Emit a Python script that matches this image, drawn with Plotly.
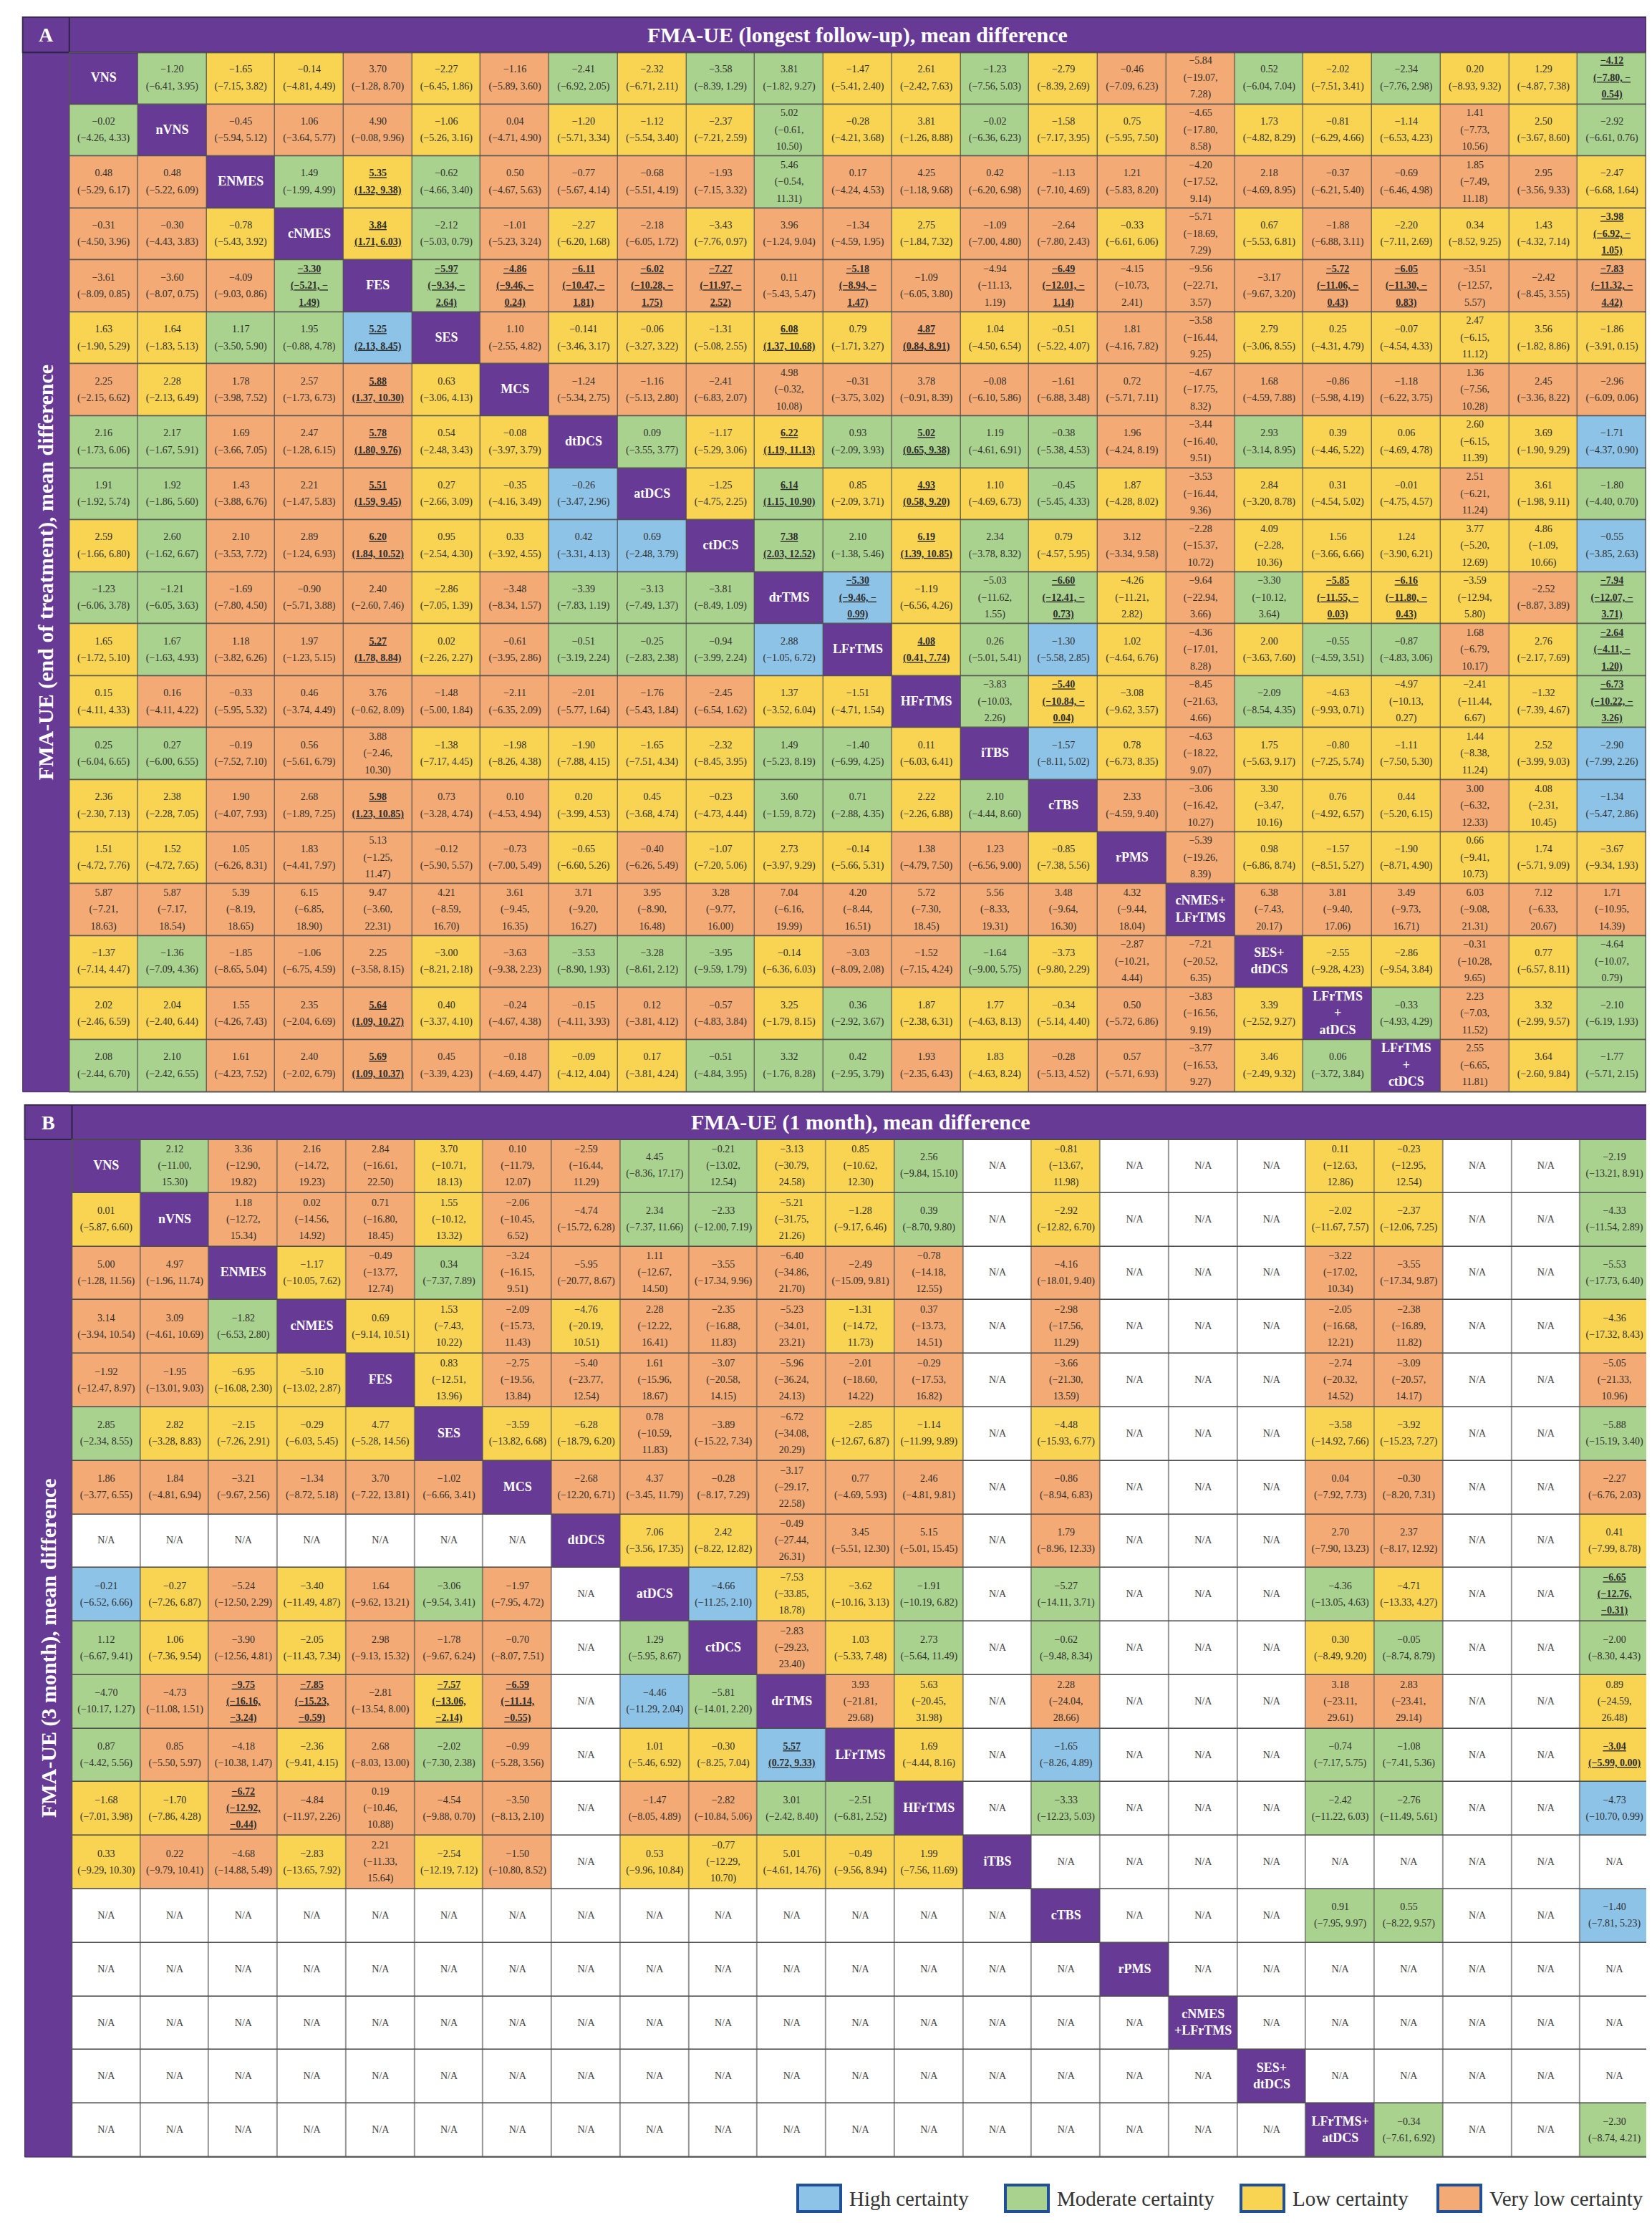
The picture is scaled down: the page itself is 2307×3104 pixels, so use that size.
import plotly.graph_objects as go

W, H = 2307, 3104
N = None

# ---------------- treatments ----------------
TREAT_A = ["VNS", "nVNS", "ENMES", "cNMES", "FES", "SES", "MCS", "dtDCS", "atDCS", "ctDCS",
           "drTMS", "LFrTMS", "HFrTMS", "iTBS", "cTBS", "rPMS", "cNMES+\nLFrTMS", "SES+\ndtDCS",
           "LFrTMS\n+\natDCS", "LFrTMS\n+\nctDCS"]
TREAT_B = ["VNS", "nVNS", "ENMES", "cNMES", "FES", "SES", "MCS", "dtDCS", "atDCS", "ctDCS",
           "drTMS", "LFrTMS", "HFrTMS", "iTBS", "cTBS", "rPMS", "cNMES\n+LFrTMS", "SES+\ndtDCS",
           "LFrTMS+\natDCS"]
NCOL = 23

TITLE_A = "FMA-UE (longest follow-up), mean difference"
TITLE_B = "FMA-UE (1 month), mean difference"
YLAB_A = "FMA-UE (end of treatment), mean difference"
YLAB_B = "FMA-UE (3 month), mean difference"
LEGEND_LABELS = ["High certainty", "Moderate certainty", "Low certainty", "Very low certainty"]
LEGEND_CODES = ["H", "M", "L", "V"]

# certainty: H high, M moderate, L low, V very low, D diagonal, N not available
CERT_A = [
    "DMLLVLVMLMMLLMLVVMLMLLM",
    "MDVVVLVLLLMLLMLLVLLLVLM",
    "VVDMLMVVVVMVVVVVVVVVVVL",
    "VVLDLMVLVLVVLVVLVLVLLLL",
    "VVVMDMVVVVVVVVVVVVVVVVV",
    "LLMMHDVLLLLLVLLVVLLLLLL",
    "VLVVVLDVVVVVVVVVVVVVVVV",
    "MMVVVLLDMLLMMMMVVMLLLLH",
    "MMVVVLLHDLMLLLMLVLLLVLM",
    "LMVVVLLHHDMMLMLVVLLLLLH",
    "MMVVVLVMMMDHLMMLVMLLLVM",
    "LMVVVLVMMMHDLMHLVLMMVLM",
    "LVVVVVVVVVLLDMLLVMLLLLM",
    "MMVVVLLLLLMMLDHLVLLLLLH",
    "LLVVVVVLLLMMLMDVVLLLVLH",
    "LLVVVVVLVLLLVVLDVLLLLLL",
    "VVVVVVVVVVVVVVVVDVVVVVV",
    "LMVVVLVMMMLVVMLVVDLLVLM",
    "LLVVVLVVVVLMLLLVVLDMVLM",
    "MMVVVVVLLMMMVLVVVLMDVLM",
]

MEAN_A = [
    [N, -1.20, -1.65, -0.14, 3.70, -2.27, -1.16, -2.41, -2.32, -3.58, 3.81, -1.47, 2.61, -1.23, -2.79, -0.46, -5.84, 0.52, -2.02, -2.34, 0.20, 1.29, -4.12],
    [-0.02, N, -0.45, 1.06, 4.90, -1.06, 0.04, -1.20, -1.12, -2.37, 5.02, -0.28, 3.81, -0.02, -1.58, 0.75, -4.65, 1.73, -0.81, -1.14, 1.41, 2.50, -2.92],
    [0.48, 0.48, N, 1.49, 5.35, -0.62, 0.50, -0.77, -0.68, -1.93, 5.46, 0.17, 4.25, 0.42, -1.13, 1.21, -4.20, 2.18, -0.37, -0.69, 1.85, 2.95, -2.47],
    [-0.31, -0.30, -0.78, N, 3.84, -2.12, -1.01, -2.27, -2.18, -3.43, 3.96, -1.34, 2.75, -1.09, -2.64, -0.33, -5.71, 0.67, -1.88, -2.20, 0.34, 1.43, -3.98],
    [-3.61, -3.60, -4.09, -3.30, N, -5.97, -4.86, -6.11, -6.02, -7.27, 0.11, -5.18, -1.09, -4.94, -6.49, -4.15, -9.56, -3.17, -5.72, -6.05, -3.51, -2.42, -7.83],
    [1.63, 1.64, 1.17, 1.95, 5.25, N, 1.10, -0.141, -0.06, -1.31, 6.08, 0.79, 4.87, 1.04, -0.51, 1.81, -3.58, 2.79, 0.25, -0.07, 2.47, 3.56, -1.86],
    [2.25, 2.28, 1.78, 2.57, 5.88, 0.63, N, -1.24, -1.16, -2.41, 4.98, -0.31, 3.78, -0.08, -1.61, 0.72, -4.67, 1.68, -0.86, -1.18, 1.36, 2.45, -2.96],
    [2.16, 2.17, 1.69, 2.47, 5.78, 0.54, -0.08, N, 0.09, -1.17, 6.22, 0.93, 5.02, 1.19, -0.38, 1.96, -3.44, 2.93, 0.39, 0.06, 2.60, 3.69, -1.71],
    [1.91, 1.92, 1.43, 2.21, 5.51, 0.27, -0.35, -0.26, N, -1.25, 6.14, 0.85, 4.93, 1.10, -0.45, 1.87, -3.53, 2.84, 0.31, -0.01, 2.51, 3.61, -1.80],
    [2.59, 2.60, 2.10, 2.89, 6.20, 0.95, 0.33, 0.42, 0.69, N, 7.38, 2.10, 6.19, 2.34, 0.79, 3.12, -2.28, 4.09, 1.56, 1.24, 3.77, 4.86, -0.55],
    [-1.23, -1.21, -1.69, -0.90, 2.40, -2.86, -3.48, -3.39, -3.13, -3.81, N, -5.30, -1.19, -5.03, -6.60, -4.26, -9.64, -3.30, -5.85, -6.16, -3.59, -2.52, -7.94],
    [1.65, 1.67, 1.18, 1.97, 5.27, 0.02, -0.61, -0.51, -0.25, -0.94, 2.88, N, 4.08, 0.26, -1.30, 1.02, -4.36, 2.00, -0.55, -0.87, 1.68, 2.76, -2.64],
    [0.15, 0.16, -0.33, 0.46, 3.76, -1.48, -2.11, -2.01, -1.76, -2.45, 1.37, -1.51, N, -3.83, -5.40, -3.08, -8.45, -2.09, -4.63, -4.97, -2.41, -1.32, -6.73],
    [0.25, 0.27, -0.19, 0.56, 3.88, -1.38, -1.98, -1.90, -1.65, -2.32, 1.49, -1.40, 0.11, N, -1.57, 0.78, -4.63, 1.75, -0.80, -1.11, 1.44, 2.52, -2.90],
    [2.36, 2.38, 1.90, 2.68, 5.98, 0.73, 0.10, 0.20, 0.45, -0.23, 3.60, 0.71, 2.22, 2.10, N, 2.33, -3.06, 3.30, 0.76, 0.44, 3.00, 4.08, -1.34],
    [1.51, 1.52, 1.05, 1.83, 5.13, -0.12, -0.73, -0.65, -0.40, -1.07, 2.73, -0.14, 1.38, 1.23, -0.85, N, -5.39, 0.98, -1.57, -1.90, 0.66, 1.74, -3.67],
    [5.87, 5.87, 5.39, 6.15, 9.47, 4.21, 3.61, 3.71, 3.95, 3.28, 7.04, 4.20, 5.72, 5.56, 3.48, 4.32, N, 6.38, 3.81, 3.49, 6.03, 7.12, 1.71],
    [-1.37, -1.36, -1.85, -1.06, 2.25, -3.00, -3.63, -3.53, -3.28, -3.95, -0.14, -3.03, -1.52, -1.64, -3.73, -2.87, -7.21, N, -2.55, -2.86, -0.31, 0.77, -4.64],
    [2.02, 2.04, 1.55, 2.35, 5.64, 0.40, -0.24, -0.15, 0.12, -0.57, 3.25, 0.36, 1.87, 1.77, -0.34, 0.50, -3.83, 3.39, N, -0.33, 2.23, 3.32, -2.10],
    [2.08, 2.10, 1.61, 2.40, 5.69, 0.45, -0.18, -0.09, 0.17, -0.51, 3.32, 0.42, 1.93, 1.83, -0.28, 0.57, -3.77, 3.46, 0.06, N, 2.55, 3.64, -1.77],
]
LO_A = [
    [N, -6.41, -7.15, -4.81, -1.28, -6.45, -5.89, -6.92, -6.71, -8.39, -1.82, -5.41, -2.42, -7.56, -8.39, -7.09, -19.07, -6.04, -7.51, -7.76, -8.93, -4.87, -7.80],
    [-4.26, N, -5.94, -3.64, -0.08, -5.26, -4.71, -5.71, -5.54, -7.21, -0.61, -4.21, -1.26, -6.36, -7.17, -5.95, -17.80, -4.82, -6.29, -6.53, -7.73, -3.67, -6.61],
    [-5.29, -5.22, N, -1.99, 1.32, -4.66, -4.67, -5.67, -5.51, -7.15, -0.54, -4.24, -1.18, -6.20, -7.10, -5.83, -17.52, -4.69, -6.21, -6.46, -7.49, -3.56, -6.68],
    [-4.50, -4.43, -5.43, N, 1.71, -5.03, -5.23, -6.20, -6.05, -7.76, -1.24, -4.59, -1.84, -7.00, -7.80, -6.61, -18.69, -5.53, -6.88, -7.11, -8.52, -4.32, -6.92],
    [-8.09, -8.07, -9.03, -5.21, N, -9.34, -9.46, -10.47, -10.28, -11.97, -5.43, -8.94, -6.05, -11.13, -12.01, -10.73, -22.71, -9.67, -11.06, -11.30, -12.57, -8.45, -11.32],
    [-1.90, -1.83, -3.50, -0.88, 2.13, N, -2.55, -3.46, -3.27, -5.08, 1.37, -1.71, 0.84, -4.50, -5.22, -4.16, -16.44, -3.06, -4.31, -4.54, -6.15, -1.82, -3.91],
    [-2.15, -2.13, -3.98, -1.73, 1.37, -3.06, N, -5.34, -5.13, -6.83, -0.32, -3.75, -0.91, -6.10, -6.88, -5.71, -17.75, -4.59, -5.98, -6.22, -7.56, -3.36, -6.09],
    [-1.73, -1.67, -3.66, -1.28, 1.80, -2.48, -3.97, N, -3.55, -5.29, 1.19, -2.09, 0.65, -4.61, -5.38, -4.24, -16.40, -3.14, -4.46, -4.69, -6.15, -1.90, -4.37],
    [-1.92, -1.86, -3.88, -1.47, 1.59, -2.66, -4.16, -3.47, N, -4.75, 1.15, -2.09, 0.58, -4.69, -5.45, -4.28, -16.44, -3.20, -4.54, -4.75, -6.21, -1.98, -4.40],
    [-1.66, -1.62, -3.53, -1.24, 1.84, -2.54, -3.92, -3.31, -2.48, N, 2.03, -1.38, 1.39, -3.78, -4.57, -3.34, -15.37, -2.28, -3.66, -3.90, -5.20, -1.09, -3.85],
    [-6.06, -6.05, -7.80, -5.71, -2.60, -7.05, -8.34, -7.83, -7.49, -8.49, N, -9.46, -6.56, -11.62, -12.41, -11.21, -22.94, -10.12, -11.55, -11.80, -12.94, -8.87, -12.07],
    [-1.72, -1.63, -3.82, -1.23, 1.78, -2.26, -3.95, -3.19, -2.83, -3.99, -1.05, N, 0.41, -5.01, -5.58, -4.64, -17.01, -3.63, -4.59, -4.83, -6.79, -2.17, -4.11],
    [-4.11, -4.11, -5.95, -3.74, -0.62, -5.00, -6.35, -5.77, -5.43, -6.54, -3.52, -4.71, N, -10.03, -10.84, -9.62, -21.63, -8.54, -9.93, -10.13, -11.44, -7.39, -10.22],
    [-6.04, -6.00, -7.52, -5.61, -2.46, -7.17, -8.26, -7.88, -7.51, -8.45, -5.23, -6.99, -6.03, N, -8.11, -6.73, -18.22, -5.63, -7.25, -7.50, -8.38, -3.99, -7.99],
    [-2.30, -2.28, -4.07, -1.89, 1.23, -3.28, -4.53, -3.99, -3.68, -4.73, -1.59, -2.88, -2.26, -4.44, N, -4.59, -16.42, -3.47, -4.92, -5.20, -6.32, -2.31, -5.47],
    [-4.72, -4.72, -6.26, -4.41, -1.25, -5.90, -7.00, -6.60, -6.26, -7.20, -3.97, -5.66, -4.79, -6.56, -7.38, N, -19.26, -6.86, -8.51, -8.71, -9.41, -5.71, -9.34],
    [-7.21, -7.17, -8.19, -6.85, -3.60, -8.59, -9.45, -9.20, -8.90, -9.77, -6.16, -8.44, -7.30, -8.33, -9.64, -9.44, N, -7.43, -9.40, -9.73, -9.08, -6.33, -10.95],
    [-7.14, -7.09, -8.65, -6.75, -3.58, -8.21, -9.38, -8.90, -8.61, -9.59, -6.36, -8.09, -7.15, -9.00, -9.80, -10.21, -20.52, N, -9.28, -9.54, -10.28, -6.57, -10.07],
    [-2.46, -2.40, -4.26, -2.04, 1.09, -3.37, -4.67, -4.11, -3.81, -4.83, -1.79, -2.92, -2.38, -4.63, -5.14, -5.72, -16.56, -2.52, N, -4.93, -7.03, -2.99, -6.19],
    [-2.44, -2.42, -4.23, -2.02, 1.09, -3.39, -4.69, -4.12, -3.81, -4.84, -1.76, -2.95, -2.35, -4.63, -5.13, -5.71, -16.53, -2.49, -3.72, N, -6.65, -2.60, -5.71],
]
HI_A = [
    [N, 3.95, 3.82, 4.49, 8.70, 1.86, 3.60, 2.05, 2.11, 1.29, 9.27, 2.40, 7.63, 5.03, 2.69, 6.23, 7.28, 7.04, 3.41, 2.98, 9.32, 7.38, -0.54],
    [4.33, N, 5.12, 5.77, 9.96, 3.16, 4.90, 3.34, 3.40, 2.59, 10.50, 3.68, 8.88, 6.23, 3.95, 7.50, 8.58, 8.29, 4.66, 4.23, 10.56, 8.60, 0.76],
    [6.17, 6.09, N, 4.99, 9.38, 3.40, 5.63, 4.14, 4.19, 3.32, 11.31, 4.53, 9.68, 6.98, 4.69, 8.20, 9.14, 8.95, 5.40, 4.98, 11.18, 9.33, 1.64],
    [3.96, 3.83, 3.92, N, 6.03, 0.79, 3.24, 1.68, 1.72, 0.97, 9.04, 1.95, 7.32, 4.80, 2.43, 6.06, 7.29, 6.81, 3.11, 2.69, 9.25, 7.14, -1.05],
    [0.85, 0.75, 0.86, -1.49, N, -2.64, -0.24, -1.81, -1.75, -2.52, 5.47, -1.47, 3.80, 1.19, -1.14, 2.41, 3.57, 3.20, -0.43, -0.83, 5.57, 3.55, -4.42],
    [5.29, 5.13, 5.90, 4.78, 8.45, N, 4.82, 3.17, 3.22, 2.55, 10.68, 3.27, 8.91, 6.54, 4.07, 7.82, 9.25, 8.55, 4.79, 4.33, 11.12, 8.86, 0.15],
    [6.62, 6.49, 7.52, 6.73, 10.30, 4.13, N, 2.75, 2.80, 2.07, 10.08, 3.02, 8.39, 5.86, 3.48, 7.11, 8.32, 7.88, 4.19, 3.75, 10.28, 8.22, 0.06],
    [6.06, 5.91, 7.05, 6.15, 9.76, 3.43, 3.79, N, 3.77, 3.06, 11.13, 3.93, 9.38, 6.91, 4.53, 8.19, 9.51, 8.95, 5.22, 4.78, 11.39, 9.29, 0.90],
    [5.74, 5.60, 6.76, 5.83, 9.45, 3.09, 3.49, 2.96, N, 2.25, 10.90, 3.71, 9.20, 6.73, 4.33, 8.02, 9.36, 8.78, 5.02, 4.57, 11.24, 9.11, 0.70],
    [6.80, 6.67, 7.72, 6.93, 10.52, 4.30, 4.55, 4.13, 3.79, N, 12.52, 5.46, 10.85, 8.32, 5.95, 9.58, 10.72, 10.36, 6.66, 6.21, 12.69, 10.66, 2.63],
    [3.78, 3.63, 4.50, 3.88, 7.46, 1.39, 1.57, 1.19, 1.37, 1.09, N, -0.99, 4.26, 1.55, -0.73, 2.82, 3.66, 3.64, -0.03, -0.43, 5.80, 3.89, -3.71],
    [5.10, 4.93, 6.26, 5.15, 8.84, 2.27, 2.86, 2.24, 2.38, 2.24, 6.72, N, 7.74, 5.41, 2.85, 6.76, 8.28, 7.60, 3.51, 3.06, 10.17, 7.69, -1.20],
    [4.33, 4.22, 5.32, 4.49, 8.09, 1.84, 2.09, 1.64, 1.84, 1.62, 6.04, 1.54, N, 2.26, -0.04, 3.57, 4.66, 4.35, 0.71, 0.27, 6.67, 4.67, -3.26],
    [6.65, 6.55, 7.10, 6.79, 10.30, 4.45, 4.38, 4.15, 4.34, 3.95, 8.19, 4.25, 6.41, N, 5.02, 8.35, 9.07, 9.17, 5.74, 5.30, 11.24, 9.03, 2.26],
    [7.13, 7.05, 7.93, 7.25, 10.85, 4.74, 4.94, 4.53, 4.74, 4.44, 8.72, 4.35, 6.88, 8.60, N, 9.40, 10.27, 10.16, 6.57, 6.15, 12.33, 10.45, 2.86],
    [7.76, 7.65, 8.31, 7.97, 11.47, 5.57, 5.49, 5.26, 5.49, 5.06, 9.29, 5.31, 7.50, 9.00, 5.56, N, 8.39, 8.74, 5.27, 4.90, 10.73, 9.09, 1.93],
    [18.63, 18.54, 18.65, 18.90, 22.31, 16.70, 16.35, 16.27, 16.48, 16.00, 19.99, 16.51, 18.45, 19.31, 16.30, 18.04, N, 20.17, 17.06, 16.71, 21.31, 20.67, 14.39],
    [4.47, 4.36, 5.04, 4.59, 8.15, 2.18, 2.23, 1.93, 2.12, 1.79, 6.03, 2.08, 4.24, 5.75, 2.29, 4.44, 6.35, N, 4.23, 3.84, 9.65, 8.11, 0.79],
    [6.59, 6.44, 7.43, 6.69, 10.27, 4.10, 4.38, 3.93, 4.12, 3.84, 8.15, 3.67, 6.31, 8.13, 4.40, 6.86, 9.19, 9.27, N, 4.29, 11.52, 9.57, 1.93],
    [6.70, 6.55, 7.52, 6.79, 10.37, 4.23, 4.47, 4.04, 4.24, 3.95, 8.28, 3.79, 6.43, 8.24, 4.52, 6.93, 9.27, 9.32, 3.84, N, 11.81, 9.84, 2.15],
]

CERT_B = [
    "DMVVVLVVMMLLMNLNNNLLNNM",
    "LDVVVLVVMMLLMNLNNNLLNNM",
    "VVDLVMVVVVVVVNVNNNVVNNM",
    "VVMDLLVLVVVLVNVNNNVVNNL",
    "VVLLDLVVVVVVVNVNNNVVNNV",
    "MLLLLDLLVVVLLNLNNNLLNNM",
    "VVVVVVDVVVVVVNVNNNVVNNV",
    "NNNNNNNDLLVVVNVNNNVVNNL",
    "HLVLVMVNDHLLMNMNNNMLNNM",
    "MLVLVVVNMDVLMNMNNNLMNNM",
    "MVVVVLVNHMDVLNVNNNVVNNL",
    "MVVLVMVNLLHDLNHNNNMMNNL",
    "LLVVVVVNVVMMDNMNNNMMNNH",
    "LVVLVLVNLLLLLDNNNNNNNNN",
    "NNNNNNNNNNNNNNDNNNMMNNH",
    "NNNNNNNNNNNNNNNDNNNNNNN",
    "NNNNNNNNNNNNNNNNDNNNNNN",
    "NNNNNNNNNNNNNNNNNDNNNNN",
    "NNNNNNNNNNNNNNNNNNDMNNM",
]
MEAN_B = [
    [N, 2.12, 3.36, 2.16, 2.84, 3.70, 0.10, -2.59, 4.45, -0.21, -3.13, 0.85, 2.56, N, -0.81, N, N, N, 0.11, -0.23, N, N, -2.19],
    [0.01, N, 1.18, 0.02, 0.71, 1.55, -2.06, -4.74, 2.34, -2.33, -5.21, -1.28, 0.39, N, -2.92, N, N, N, -2.02, -2.37, N, N, -4.33],
    [5.00, 4.97, N, -1.17, -0.49, 0.34, -3.24, -5.95, 1.11, -3.55, -6.40, -2.49, -0.78, N, -4.16, N, N, N, -3.22, -3.55, N, N, -5.53],
    [3.14, 3.09, -1.82, N, 0.69, 1.53, -2.09, -4.76, 2.28, -2.35, -5.23, -1.31, 0.37, N, -2.98, N, N, N, -2.05, -2.38, N, N, -4.36],
    [-1.92, -1.95, -6.95, -5.10, N, 0.83, -2.75, -5.40, 1.61, -3.07, -5.96, -2.01, -0.29, N, -3.66, N, N, N, -2.74, -3.09, N, N, -5.05],
    [2.85, 2.82, -2.15, -0.29, 4.77, N, -3.59, -6.28, 0.78, -3.89, -6.72, -2.85, -1.14, N, -4.48, N, N, N, -3.58, -3.92, N, N, -5.88],
    [1.86, 1.84, -3.21, -1.34, 3.70, -1.02, N, -2.68, 4.37, -0.28, -3.17, 0.77, 2.46, N, -0.86, N, N, N, 0.04, -0.30, N, N, -2.27],
    [N, N, N, N, N, N, N, N, 7.06, 2.42, -0.49, 3.45, 5.15, N, 1.79, N, N, N, 2.70, 2.37, N, N, 0.41],
    [-0.21, -0.27, -5.24, -3.40, 1.64, -3.06, -1.97, N, N, -4.66, -7.53, -3.62, -1.91, N, -5.27, N, N, N, -4.36, -4.71, N, N, -6.65],
    [1.12, 1.06, -3.90, -2.05, 2.98, -1.78, -0.70, N, 1.29, N, -2.83, 1.03, 2.73, N, -0.62, N, N, N, 0.30, -0.05, N, N, -2.00],
    [-4.70, -4.73, -9.75, -7.85, -2.81, -7.57, -6.59, N, -4.46, -5.81, N, 3.93, 5.63, N, 2.28, N, N, N, 3.18, 2.83, N, N, 0.89],
    [0.87, 0.85, -4.18, -2.36, 2.68, -2.02, -0.99, N, 1.01, -0.30, 5.57, N, 1.69, N, -1.65, N, N, N, -0.74, -1.08, N, N, -3.04],
    [-1.68, -1.70, -6.72, -4.84, 0.19, -4.54, -3.50, N, -1.47, -2.82, 3.01, -2.51, N, N, -3.33, N, N, N, -2.42, -2.76, N, N, -4.73],
    [0.33, 0.22, -4.68, -2.83, 2.21, -2.54, -1.50, N, 0.53, -0.77, 5.01, -0.49, 1.99, N, N, N, N, N, N, N, N, N, N],
    [N, N, N, N, N, N, N, N, N, N, N, N, N, N, N, N, N, N, 0.91, 0.55, N, N, -1.40],
    [N] * 23,
    [N] * 23,
    [N] * 23,
    [N, N, N, N, N, N, N, N, N, N, N, N, N, N, N, N, N, N, N, -0.34, N, N, -2.30],
]
LO_B = [
    [N, -11.00, -12.90, -14.72, -16.61, -10.71, -11.79, -16.44, -8.36, -13.02, -30.79, -10.62, -9.84, N, -13.67, N, N, N, -12.63, -12.95, N, N, -13.21],
    [-5.87, N, -12.72, -14.56, -16.80, -10.12, -10.45, -15.72, -7.37, -12.00, -31.75, -9.17, -8.70, N, -12.82, N, N, N, -11.67, -12.06, N, N, -11.54],
    [-1.28, -1.96, N, -10.05, -13.77, -7.37, -16.15, -20.77, -12.67, -17.34, -34.86, -15.09, -14.18, N, -18.01, N, N, N, -17.02, -17.34, N, N, -17.73],
    [-3.94, -4.61, -6.53, N, -9.14, -7.43, -15.73, -20.19, -12.22, -16.88, -34.01, -14.72, -13.73, N, -17.56, N, N, N, -16.68, -16.89, N, N, -17.32],
    [-12.47, -13.01, -16.08, -13.02, N, -12.51, -19.56, -23.77, -15.96, -20.58, -36.24, -18.60, -17.53, N, -21.30, N, N, N, -20.32, -20.57, N, N, -21.33],
    [-2.34, -3.28, -7.26, -6.03, -5.28, N, -13.82, -18.79, -10.59, -15.22, -34.08, -12.67, -11.99, N, -15.93, N, N, N, -14.92, -15.23, N, N, -15.19],
    [-3.77, -4.81, -9.67, -8.72, -7.22, -6.66, N, -12.20, -3.45, -8.17, -29.17, -4.69, -4.81, N, -8.94, N, N, N, -7.92, -8.20, N, N, -6.76],
    [N, N, N, N, N, N, N, N, -3.56, -8.22, -27.44, -5.51, -5.01, N, -8.96, N, N, N, -7.90, -8.17, N, N, -7.99],
    [-6.52, -7.26, -12.50, -11.49, -9.62, -9.54, -7.95, N, N, -11.25, -33.85, -10.16, -10.19, N, -14.11, N, N, N, -13.05, -13.33, N, N, -12.76],
    [-6.67, -7.36, -12.56, -11.43, -9.13, -9.67, -8.07, N, -5.95, N, -29.23, -5.33, -5.64, N, -9.48, N, N, N, -8.49, -8.74, N, N, -8.30],
    [-10.17, -11.08, -16.16, -15.23, -13.54, -13.06, -11.14, N, -11.29, -14.01, N, -21.81, -20.45, N, -24.04, N, N, N, -23.11, -23.41, N, N, -24.59],
    [-4.42, -5.50, -10.38, -9.41, -8.03, -7.30, -5.28, N, -5.46, -8.25, 0.72, N, -4.44, N, -8.26, N, N, N, -7.17, -7.41, N, N, -5.99],
    [-7.01, -7.86, -12.92, -11.97, -10.46, -9.88, -8.13, N, -8.05, -10.84, -2.42, -6.81, N, N, -12.23, N, N, N, -11.22, -11.49, N, N, -10.70],
    [-9.29, -9.79, -14.88, -13.65, -11.33, -12.19, -10.80, N, -9.96, -12.29, -4.61, -9.56, -7.56, N, N, N, N, N, N, N, N, N, N],
    [N, N, N, N, N, N, N, N, N, N, N, N, N, N, N, N, N, N, -7.95, -8.22, N, N, -7.81],
    [N] * 23,
    [N] * 23,
    [N] * 23,
    [N, N, N, N, N, N, N, N, N, N, N, N, N, N, N, N, N, N, N, -7.61, N, N, -8.74],
]
HI_B = [
    [N, 15.30, 19.82, 19.23, 22.50, 18.13, 12.07, 11.29, 17.17, 12.54, 24.58, 12.30, 15.10, N, 11.98, N, N, N, 12.86, 12.54, N, N, 8.91],
    [6.60, N, 15.34, 14.92, 18.45, 13.32, 6.52, 6.28, 11.66, 7.19, 21.26, 6.46, 9.80, N, 6.70, N, N, N, 7.57, 7.25, N, N, 2.89],
    [11.56, 11.74, N, 7.62, 12.74, 7.89, 9.51, 8.67, 14.50, 9.96, 21.70, 9.81, 12.55, N, 9.40, N, N, N, 10.34, 9.87, N, N, 6.40],
    [10.54, 10.69, 2.80, N, 10.51, 10.22, 11.43, 10.51, 16.41, 11.83, 23.21, 11.73, 14.51, N, 11.29, N, N, N, 12.21, 11.82, N, N, 8.43],
    [8.97, 9.03, 2.30, 2.87, N, 13.96, 13.84, 12.54, 18.67, 14.15, 24.13, 14.22, 16.82, N, 13.59, N, N, N, 14.52, 14.17, N, N, 10.96],
    [8.55, 8.83, 2.91, 5.45, 14.56, N, 6.68, 6.20, 11.83, 7.34, 20.29, 6.87, 9.89, N, 6.77, N, N, N, 7.66, 7.27, N, N, 3.40],
    [6.55, 6.94, 2.56, 5.18, 13.81, 3.41, N, 6.71, 11.79, 7.29, 22.58, 5.93, 9.81, N, 6.83, N, N, N, 7.73, 7.31, N, N, 2.03],
    [N, N, N, N, N, N, N, N, 17.35, 12.82, 26.31, 12.30, 15.45, N, 12.33, N, N, N, 13.23, 12.92, N, N, 8.78],
    [6.66, 6.87, 2.29, 4.87, 13.21, 3.41, 4.72, N, N, 2.10, 18.78, 3.13, 6.82, N, 3.71, N, N, N, 4.63, 4.27, N, N, -0.31],
    [9.41, 9.54, 4.81, 7.34, 15.32, 6.24, 7.51, N, 8.67, N, 23.40, 7.48, 11.49, N, 8.34, N, N, N, 9.20, 8.79, N, N, 4.43],
    [1.27, 1.51, -3.24, -0.59, 8.00, -2.14, -0.55, N, 2.04, 2.20, N, 29.68, 31.98, N, 28.66, N, N, N, 29.61, 29.14, N, N, 26.48],
    [5.56, 5.97, 1.47, 4.15, 13.00, 2.38, 3.56, N, 6.92, 7.04, 9.33, N, 8.16, N, 4.89, N, N, N, 5.75, 5.36, N, N, 0.00],
    [3.98, 4.28, -0.44, 2.26, 10.88, 0.70, 2.10, N, 4.89, 5.06, 8.40, 2.52, N, N, 5.03, N, N, N, 6.03, 5.61, N, N, 0.99],
    [10.30, 10.41, 5.49, 7.92, 15.64, 7.12, 8.52, N, 10.84, 10.70, 14.76, 8.94, 11.69, N, N, N, N, N, N, N, N, N, N],
    [N, N, N, N, N, N, N, N, N, N, N, N, N, N, N, N, N, N, 9.97, 9.57, N, N, 5.23],
    [N] * 23,
    [N] * 23,
    [N] * 23,
    [N, N, N, N, N, N, N, N, N, N, N, N, N, N, N, N, N, N, N, 6.92, N, N, 4.21],
]
# cells of panel B whose interval was broken onto two lines although short
WRAP_B_EXTRA = {(1, 6), (2, 6), (3, 5)}

for grid in (CERT_A, MEAN_A, LO_A, HI_A):
    assert len(grid) == len(TREAT_A) and all(len(r) == NCOL for r in grid)
for grid in (CERT_B, MEAN_B, LO_B, HI_B):
    assert len(grid) == len(TREAT_B) and all(len(r) == NCOL for r in grid)

# ---------------- styling ----------------
COLORS = {"N": "#FFFFFF", "H": "#8DC3E7", "M": "#AAD28F", "L": "#F9D452", "V": "#F3AA74", "D": "#673A95"}
CODE_Z = {"N": 0, "H": 1, "M": 2, "L": 3, "V": 4, "D": 5}
PURPLE = COLORS["D"]
CS = [[0, COLORS["N"]], [0.1, COLORS["N"]], [0.1, COLORS["H"]], [0.3, COLORS["H"]],
      [0.3, COLORS["M"]], [0.5, COLORS["M"]], [0.5, COLORS["L"]], [0.7, COLORS["L"]],
      [0.7, COLORS["V"]], [0.9, COLORS["V"]], [0.9, COLORS["D"]], [1, COLORS["D"]]]
SERIF = "Liberation Serif, Times New Roman, serif"
TXT = "#2e2e2e"
CELL_FS = 14
DIAG_FS = 18

# panel geometry in pixels
PANELS = {
    "A": dict(x0=88.8, x1=2291.0, y0=65.2, y1=1516.7, band=23.7, head=16.0, ls=23.5),
    "B": dict(x0=92.5, x1=2294.5, y0=1583.0, y1=3004.0, band=26.6, head=1535.0, ls=23.0),
}


def px(x):
    return x / W


def py(y):
    return 1 - y / H


def fmt(v):
    s = f"{v:.2f}"
    if abs(round(v, 2) - v) > 1e-9:
        s = f"{v:.3f}"
    if s.startswith("-"):
        s = "\u2212" + s[1:]
    return s


def cell_lines(panel, r, c, m, lo, hi):
    ms, ls, hs = fmt(m), fmt(lo), fmt(hi)
    sig = lo > 0 or hi <= 0
    n = len(ls) + len(hs)
    wrap = (n >= 10) if panel == "A" else (n >= 11 or (r, c) in WRAP_B_EXTRA)
    if not wrap:
        lines = [ms, f"({ls}, {hs})"]
    elif panel == "A" and hi < 0:
        lines = [ms, f"({ls}, \u2212", f"{hs[1:]})"]
    else:
        lines = [ms, f"({ls},", f"{hs})"]
    if sig:
        lines = [f"<b><span style='text-decoration:underline'>{t}</span></b>" for t in lines]
    return lines


fig = go.Figure()
annotations = []
shapes = []
axis_common = dict(showgrid=False, zeroline=False, showticklabels=False, ticks="",
                   showline=False, fixedrange=True)

for k, (key, treat, cert, mean, lo, hi, title, ylab, letter) in enumerate([
        ("A", TREAT_A, CERT_A, MEAN_A, LO_A, HI_A, TITLE_A, YLAB_A, "A"),
        ("B", TREAT_B, CERT_B, MEAN_B, LO_B, HI_B, TITLE_B, YLAB_B, "B")]):
    g = PANELS[key]
    nrow = len(treat)
    xa = "x" if k == 0 else "x2"
    ya = "y" if k == 0 else "y2"
    z = [[CODE_Z[ch] for ch in row] for row in cert]
    fig.add_trace(go.Heatmap(z=z, x=list(range(NCOL)), y=list(range(nrow)), colorscale=CS,
                             zmin=0, zmax=5, showscale=False, xgap=1.2, ygap=1.6,
                             hoverinfo="skip", xaxis=xa, yaxis=ya))
    rowh = (g["y1"] - g["y0"]) / nrow
    xs, ys, ts, cols, sizes = [], [], [], [], []
    for r in range(nrow):
        for c in range(NCOL):
            code = cert[r][c]
            if code == "D":
                lines = [f"<b>{t}</b>" for t in treat[r].split("\n")]
                col, fs = "#FFFFFF", DIAG_FS
            elif code == "N" or mean[r][c] is None:
                lines = ["N/A"]
                col, fs = "#444444", CELL_FS
            else:
                lines = cell_lines(key, r, c, mean[r][c], lo[r][c], hi[r][c])
                col, fs = TXT, CELL_FS
            nl = len(lines)
            for i, t in enumerate(lines):
                xs.append(c)
                ys.append(r + (i - (nl - 1) / 2) * g["ls"] / rowh)
                ts.append(t)
                cols.append(col)
                sizes.append(fs)
    fig.add_trace(go.Scatter(x=xs, y=ys, text=ts, mode="text", textposition="middle center",
                             textfont=dict(family=SERIF, size=sizes, color=cols),
                             hoverinfo="skip", cliponaxis=False, xaxis=xa, yaxis=ya))
    xdom = [px(g["x0"]), px(g["x1"])]
    ydom = [py(g["y1"]), py(g["y0"])]
    sfx = "" if k == 0 else "2"
    fig.update_layout(**{
        "xaxis" + sfx: dict(domain=xdom, range=[-0.5, NCOL - 0.5], anchor="y" + sfx, **axis_common),
        "yaxis" + sfx: dict(domain=ydom, range=[nrow - 0.5, -0.5], anchor="x" + sfx, **axis_common),
    })
    # header band and row-label band
    shapes.append(dict(type="rect", xref="paper", yref="paper", x0=px(g["band"]), x1=px(g["x1"]),
                       y0=py(g["y0"]), y1=py(g["head"]), fillcolor=PURPLE,
                       line=dict(color="#3a2a55", width=2), layer="below"))
    shapes.append(dict(type="rect", xref="paper", yref="paper", x0=px(g["band"]), x1=px(g["x0"]),
                       y0=py(g["y1"]), y1=py(g["y0"]), fillcolor=PURPLE,
                       line=dict(color="#3a2a55", width=1), layer="below"))
    shapes.append(dict(type="line", xref="paper", yref="paper", x0=px(g["x0"]), x1=px(g["x0"]),
                       y0=py(g["y0"]), y1=py(g["head"]), line=dict(color="#2e2245", width=2)))
    shapes.append(dict(type="line", xref="paper", yref="paper", x0=px(g["band"]), x1=px(g["x1"]),
                       y0=py(g["y0"]), y1=py(g["y0"]), line=dict(color="#2e2245", width=2)))
    shapes.append(dict(type="rect", xref="paper", yref="paper", x0=px(g["x0"]), x1=px(g["x1"]),
                       y0=py(g["y1"]), y1=py(g["y0"]), line=dict(color="#555555", width=1.5)))
    # texts in the bands
    annotations.append(dict(xref="paper", yref="paper", x=px((g["x0"] + g["x1"]) / 2),
                            y=py((g["head"] + g["y0"]) / 2), text=f"<b>{title}</b>", showarrow=False,
                            font=dict(family=SERIF, size=30, color="#FFFFFF"),
                            xanchor="center", yanchor="middle"))
    annotations.append(dict(xref="paper", yref="paper", x=px((g["band"] + g["x0"]) / 2),
                            y=py((g["head"] + g["y0"]) / 2), text=f"<b>{letter}</b>", showarrow=False,
                            font=dict(family=SERIF, size=28, color="#FFFFFF"),
                            xanchor="center", yanchor="middle"))
    annotations.append(dict(xref="paper", yref="paper", x=px((g["band"] + g["x0"]) / 2),
                            y=py((g["y0"] + g["y1"]) / 2), text=f"<b>{ylab}</b>", showarrow=False,
                            textangle=-90, font=dict(family=SERIF, size=30, color="#FFFFFF"),
                            xanchor="center", yanchor="middle"))

# ---------------- legend ----------------
LEG_X = [1106, 1396, 1725, 2000]
for x0, code, lab in zip(LEG_X, LEGEND_CODES, LEGEND_LABELS):
    shapes.append(dict(type="rect", xref="paper", yref="paper", x0=px(x0), x1=px(x0 + 60),
                       y0=py(3080), y1=py(3043), fillcolor=COLORS[code],
                       line=dict(color="#21509a", width=4)))
    annotations.append(dict(xref="paper", yref="paper", x=px(x0 + 70), y=py(3062), text=lab,
                            showarrow=False, xanchor="left", yanchor="middle",
                            font=dict(family=SERIF, size=29, color="#333333")))

fig.update_layout(width=W, height=H, margin=dict(l=0, r=0, t=0, b=0),
                  paper_bgcolor="#FFFFFF", plot_bgcolor="#505050", showlegend=False,
                  font=dict(family=SERIF), shapes=shapes, annotations=annotations)

fig.write_html("out.html")
